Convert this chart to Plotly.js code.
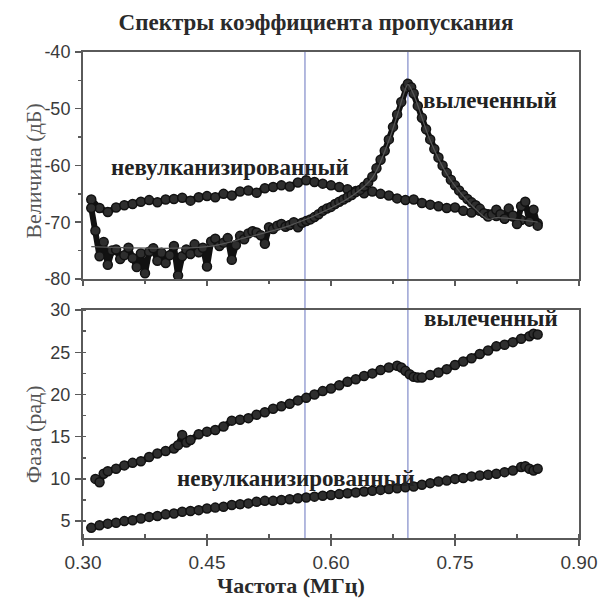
<!DOCTYPE html>
<html>
<head>
<meta charset="utf-8">
<script src="https://cdn.plot.ly/plotly-3.0.1.min.js"></script>
<style>html,body{margin:0;padding:0;background:#fff;}#chart{width:609px;height:601px;}</style>
</head>
<body>
<div id="chart"></div>
<script>
// ---- Magnitude (dB), unvulcanized ----
const magUncuredFreq = [0.31,0.32,0.33,0.34,0.35,0.36,0.37,0.38,0.39,0.40,0.41,0.42,0.43,0.44,0.45,0.46,0.47,0.48,0.49,0.50,0.51,0.52,0.53,0.54,0.55,0.56,0.57,0.58,0.59,0.60,0.61,0.62,0.63,0.64,0.65,0.66,0.67,0.68,0.69,0.70,0.71,0.72,0.73,0.74,0.75,0.76,0.77,0.78,0.79,0.80,0.81,0.82,0.83,0.84,0.85];
const magUncured = [-66.0,-67.5,-68.2,-67.4,-67.0,-66.8,-66.4,-66.1,-66.5,-66.0,-65.9,-65.7,-66.2,-65.6,-65.4,-65.6,-65.0,-65.3,-64.6,-64.4,-64.8,-64.0,-63.8,-63.5,-63.7,-63.0,-62.6,-62.9,-63.2,-63.5,-63.8,-64.2,-64.5,-64.9,-64.6,-65.0,-65.3,-65.8,-66.1,-66.0,-66.6,-66.9,-67.2,-67.5,-67.4,-68.0,-68.3,-68.0,-68.6,-68.9,-69.3,-69.0,-69.6,-69.8,-70.2];

// ---- Magnitude (dB), cured ----
const magCuredFreq = [0.310,0.315,0.320,0.325,0.330,0.335,0.340,0.345,0.350,0.355,0.360,0.365,0.370,0.375,0.380,0.385,0.390,0.395,0.400,0.405,0.410,0.415,0.420,0.425,0.430,0.435,0.440,0.445,0.450,0.455,0.460,0.465,0.470,0.475,0.480,0.485,0.490,0.495,0.500,0.505,0.510,0.515,0.520,0.525,0.530,0.535,0.540,0.545,0.550,0.555,0.560,0.565,0.570,0.575,0.580,0.585,0.590,0.595,0.600,0.605,0.610,0.615,0.620,0.625,0.630,0.635,0.640,0.645,0.650,0.655,0.660,0.665,0.670,0.675,0.680,0.685,0.690,0.693,0.697,0.700,0.705,0.710,0.715,0.720,0.725,0.730,0.735,0.740,0.745,0.750,0.755,0.760,0.765,0.770,0.775,0.780,0.785,0.790,0.795,0.800,0.805,0.810,0.815,0.820,0.825,0.830,0.835,0.840,0.845,0.850];
const magCured = [-67.5,-71.5,-76.0,-73.5,-77.5,-75.0,-74.8,-76.5,-75.8,-74.5,-76.3,-77.9,-75.5,-79.0,-75.2,-74.6,-76.8,-75.4,-77.2,-75.8,-74.2,-79.4,-76.0,-74.8,-75.6,-73.9,-75.3,-74.5,-77.8,-73.4,-72.9,-74.2,-73.6,-72.8,-76.6,-74.0,-72.4,-73.0,-72.0,-71.6,-71.8,-72.3,-73.8,-70.9,-71.2,-70.6,-70.3,-70.8,-70.5,-70.0,-70.9,-70.1,-69.8,-69.5,-69.1,-68.6,-68.0,-67.6,-67.3,-66.8,-66.4,-66.0,-65.6,-65.2,-64.7,-64.3,-63.7,-63.0,-62.0,-60.5,-59.0,-57.4,-55.4,-53.2,-51.0,-48.8,-46.3,-45.6,-46.2,-47.3,-49.5,-51.6,-53.6,-55.4,-57.1,-58.6,-60.0,-61.3,-62.5,-63.5,-64.4,-65.2,-65.9,-66.5,-67.0,-67.6,-68.4,-69.0,-68.6,-67.8,-68.6,-69.4,-67.6,-68.8,-70.3,-67.2,-66.4,-69.9,-67.8,-70.6];

// ---- Magnitude fit (thin line), cured ----
const magFitFreq = [0.31,0.45,0.50,0.55,0.60,0.63,0.65,0.67,0.68,0.69,0.693,0.70,0.72,0.74,0.76,0.78,0.79,0.80,0.85];
const magFit = [-74.3,-74.3,-72.6,-70.6,-67.5,-64.9,-62.2,-55.6,-51.2,-46.5,-45.7,-47.5,-55.6,-61.5,-65.4,-68.4,-69.5,-69.2,-70.0];

// ---- Phase (rad) ----
const phaseCuredFreq = [0.315,0.32,0.325,0.33,0.34,0.35,0.36,0.37,0.38,0.39,0.40,0.41,0.415,0.42,0.425,0.43,0.44,0.45,0.46,0.47,0.48,0.49,0.50,0.51,0.52,0.53,0.54,0.55,0.56,0.57,0.58,0.59,0.60,0.61,0.62,0.63,0.64,0.65,0.66,0.67,0.68,0.685,0.69,0.695,0.70,0.705,0.71,0.72,0.73,0.74,0.75,0.76,0.77,0.78,0.79,0.80,0.81,0.82,0.83,0.84,0.845,0.85];
const phaseCured = [10.0,9.6,10.6,10.9,11.2,11.6,11.9,12.1,12.6,13.0,13.3,13.6,14.0,15.2,14.3,14.6,15.3,15.6,15.8,16.2,16.9,17.0,17.2,17.6,17.9,18.3,18.6,18.9,19.3,19.6,20.0,20.4,20.7,21.1,21.5,21.8,22.2,22.5,22.9,23.2,23.4,23.2,22.8,22.4,22.1,22.0,22.0,22.3,22.6,23.0,23.5,23.9,24.3,24.8,25.2,25.7,25.9,26.2,26.6,26.9,27.2,27.1];

const phaseUncuredFreq = [0.31,0.32,0.33,0.34,0.35,0.36,0.37,0.38,0.39,0.40,0.41,0.42,0.43,0.44,0.45,0.46,0.47,0.48,0.49,0.50,0.51,0.52,0.53,0.54,0.55,0.56,0.57,0.58,0.59,0.60,0.61,0.62,0.63,0.64,0.65,0.66,0.67,0.68,0.69,0.70,0.71,0.72,0.73,0.74,0.75,0.76,0.77,0.78,0.79,0.80,0.81,0.82,0.83,0.835,0.84,0.845,0.85];
const phaseUncured = [4.2,4.5,4.7,4.8,5.0,5.1,5.3,5.5,5.6,5.8,5.9,6.1,6.2,6.3,6.5,6.6,6.7,6.9,7.0,7.1,7.3,7.4,7.4,7.5,7.6,7.7,7.8,7.9,8.0,8.1,8.2,8.3,8.4,8.5,8.6,8.7,8.8,8.9,9.0,9.1,9.3,9.5,9.7,9.8,10.0,10.1,10.3,10.4,10.5,10.6,10.8,11.0,11.4,11.5,11.2,11.0,11.2];

// ---- Reference lines, ticks & labels ----
const markerFreqs = [0.5685, 0.693];
const xTickVals = [0.30,0.45,0.60,0.75,0.90];
const xTickText = ['0.30','0.45','0.60','0.75','0.90'];
const magTickVals = [-40,-50,-60,-70,-80];
const magTickText = ['-40','-50','-60','-70','-80'];
const phaseTickVals = [5,10,15,20,25,30];
const phaseTickText = ['5','10','15','20','25','30'];
const titleText = 'Спектры коэффициента пропускания';
const magTitle = 'Величина (дБ)';
const phaseTitle = 'Фаза (рад)';
const freqTitle = 'Частота (МГц)';
const labelUncured = 'невулканизированный';
const labelCured = 'вылеченный';

const serif = "'Liberation Serif', 'Times New Roman', serif";
const narrow = "'Liberation Sans Narrow', 'Arial Narrow', 'Liberation Sans', sans-serif";

function band(x, y, xa, ya) {
  return {x: x, y: y, xaxis: xa, yaxis: ya, type: 'scatter', mode: 'lines+markers',
    line: {color: '#111', width: 6},
    marker: {symbol: 'circle', size: 9, color: '#2e2e2e', line: {color: '#111', width: 1.5}},
    showlegend: false, hoverinfo: 'skip'};
}

const traces = [
  band(magUncuredFreq, magUncured, 'x2', 'y'),
  band(magCuredFreq, magCured, 'x2', 'y'),
  {x: magFitFreq, y: magFit, xaxis: 'x2', yaxis: 'y', type: 'scatter', mode: 'lines',
   line: {color: '#555', width: 1.3, shape: 'spline'}, showlegend: false, hoverinfo: 'skip'},
  band(phaseCuredFreq, phaseCured, 'x', 'y2'),
  band(phaseUncuredFreq, phaseUncured, 'x', 'y2')
];

const axLine = {showline: true, linecolor: '#5a5a5a', linewidth: 2, mirror: true, showgrid: false, zeroline: false};
const tickFontX = {family: narrow, size: 19, color: '#3a3a3a'};
const tickFontY = {family: narrow, size: 18, color: '#3a3a3a'};

const topDom = [0.533, 1];
const botDom = [0, 0.469];

const layout = {
  width: 609, height: 601,
  margin: {l: 83, r: 30, t: 52, b: 63},
  paper_bgcolor: '#fff', plot_bgcolor: '#fff',
  showlegend: false,
  title: {text: '<b>' + titleText + '</b>', font: {family: serif, size: 23, color: '#2a2a2a'},
          xref: 'container', x: 0.519, xanchor: 'center', yref: 'container', y: 0.963, yanchor: 'middle'},
  xaxis: Object.assign({}, axLine, {domain: [0, 1], anchor: 'y2', range: [0.3, 0.9],
    tickmode: 'array', tickvals: xTickVals, ticktext: xTickText, ticks: 'outside', ticklen: 6, tickwidth: 1.5, tickcolor: '#5a5a5a',
    tickfont: tickFontX,
    minor: {tickmode: 'linear', tick0: 0.3, dtick: 0.075, ticks: 'inside', ticklen: 4, tickwidth: 1.5, tickcolor: '#5a5a5a'}}),
  xaxis2: Object.assign({}, axLine, {domain: [0, 1], anchor: 'y', range: [0.3, 0.9], matches: 'x',
    tickmode: 'array', tickvals: xTickVals, showticklabels: false, ticks: 'outside', ticklen: 5, tickwidth: 1.5, tickcolor: '#5a5a5a',
    minor: {tickmode: 'linear', tick0: 0.3, dtick: 0.075, ticks: 'outside', ticklen: 3, tickwidth: 1.5, tickcolor: '#5a5a5a'}}),
  xaxis3: {overlaying: 'x2', side: 'top', anchor: 'y', range: [0.3, 0.9], showgrid: false, zeroline: false, showline: false,
    tickmode: 'array', tickvals: xTickVals, showticklabels: false, ticks: 'inside', ticklen: 4, tickwidth: 1.5, tickcolor: '#5a5a5a',
    minor: {tickmode: 'linear', tick0: 0.3, dtick: 0.075, ticks: 'inside', ticklen: 4, tickwidth: 2, tickcolor: '#333'}},
  xaxis4: {overlaying: 'x', side: 'top', anchor: 'y2', range: [0.3, 0.9], showgrid: false, zeroline: false, showline: false,
    tickmode: 'array', tickvals: xTickVals, showticklabels: false, ticks: 'inside', ticklen: 4, tickwidth: 1.5, tickcolor: '#5a5a5a',
    minor: {tickmode: 'linear', tick0: 0.3, dtick: 0.075, ticks: 'inside', ticklen: 4, tickwidth: 2, tickcolor: '#333'}},
  yaxis: Object.assign({}, axLine, {domain: topDom, anchor: 'x2', range: [-80, -40],
    tickmode: 'array', tickvals: magTickVals, ticktext: magTickText, ticks: 'outside', ticklen: 6, tickwidth: 1.5, tickcolor: '#5a5a5a',
    tickfont: tickFontY, ticklabelstandoff: 1,
    minor: {tickmode: 'linear', tick0: -80, dtick: 5, ticks: 'outside', ticklen: 3, tickwidth: 1.5, tickcolor: '#5a5a5a'}}),
  yaxis3: {overlaying: 'y', side: 'right', anchor: 'x2', range: [-80, -40], showgrid: false, zeroline: false, showline: false,
    tickmode: 'linear', tick0: -80, dtick: 5, showticklabels: false, ticks: 'inside', ticklen: 4, tickwidth: 2, tickcolor: '#444'},
  yaxis2: Object.assign({}, axLine, {domain: botDom, anchor: 'x', range: [3, 30],
    tickmode: 'array', tickvals: phaseTickVals, ticktext: phaseTickText, ticks: 'outside', ticklen: 6, tickwidth: 1.5, tickcolor: '#5a5a5a',
    tickfont: tickFontY, ticklabelstandoff: 1,
    minor: {tickmode: 'linear', tick0: 2.5, dtick: 2.5, ticks: 'inside', ticklen: 3, tickwidth: 1.5, tickcolor: '#5a5a5a'}}),
  yaxis4: {overlaying: 'y2', side: 'right', anchor: 'x', range: [3, 30], showgrid: false, zeroline: false, showline: false,
    tickmode: 'linear', tick0: 2.5, dtick: 2.5, showticklabels: false, ticks: 'inside', ticklen: 4, tickwidth: 2, tickcolor: '#444'},
  shapes: markerFreqs.map(f => ({type: 'line', xref: 'x', yref: 'paper', x0: f, x1: f, y0: 0, y1: 1,
    line: {color: '#9aa2d4', width: 1.5}, layer: 'below'})),
  annotations: [
    {text: '<b>' + labelUncured + '</b>', xref: 'x2', yref: 'y', x: 0.478, y: -60.3, showarrow: false,
     font: {family: serif, size: 23, color: '#222'}, xanchor: 'center', yanchor: 'middle'},
    {text: '<b>' + labelCured + '</b>', xref: 'x2', yref: 'y', x: 0.792, y: -48.6, showarrow: false,
     font: {family: serif, size: 23, color: '#222'}, xanchor: 'center', yanchor: 'middle'},
    {text: '<b>' + labelCured + '</b>', xref: 'x', yref: 'y2', x: 0.793, y: 29.0, showarrow: false,
     font: {family: serif, size: 23, color: '#222'}, xanchor: 'center', yanchor: 'middle'},
    {text: '<b>' + labelUncured + '</b>', xref: 'x', yref: 'y2', x: 0.558, y: 10.1, showarrow: false,
     font: {family: serif, size: 23, color: '#222'}, xanchor: 'center', yanchor: 'middle'},
    {text: magTitle, xref: 'paper', yref: 'paper', x: -0.10, y: (topDom[0] + topDom[1]) / 2 - 0.01, textangle: -90, showarrow: false,
     font: {family: serif, size: 22, color: '#555'}, xanchor: 'center', yanchor: 'middle'},
    {text: phaseTitle, xref: 'paper', yref: 'paper', x: -0.10, y: (botDom[0] + botDom[1]) / 2 - 0.02, textangle: -90, showarrow: false,
     font: {family: serif, size: 22, color: '#555'}, xanchor: 'center', yanchor: 'middle'},
    {text: '<b>' + freqTitle + '</b>', xref: 'paper', yref: 'paper', x: 0.42, y: -0.097, showarrow: false,
     font: {family: serif, size: 22, color: '#2a2a2a'}, xanchor: 'center', yanchor: 'middle'}
  ]
};

Plotly.newPlot('chart', traces, layout, {staticPlot: true, displayModeBar: false});
</script>
</body>
</html>
